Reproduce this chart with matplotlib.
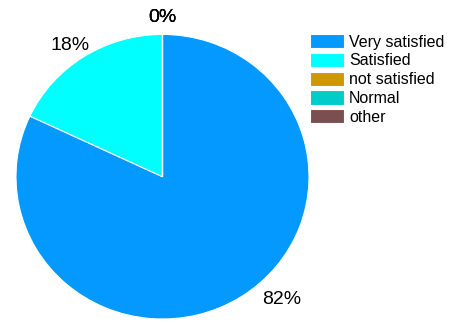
import numpy as np
import matplotlib.pyplot as plt

labels = ["Very satisfied", "Satisfied", "not satisfied", "Normal", "other"]
values = [82, 18, 0, 0, 0]
colors = ["#0399fe", "#00ffff", "#cc9900", "#00cccc", "#7b4f4f"]

fig = plt.figure(figsize=(4.49, 3.23), dpi=100)
ax = fig.add_axes([0.0356, 0.0124, 0.6526, 0.881])

wedges, texts, autotexts = ax.pie(values, colors=colors, startangle=90, counterclock=False,
                                  autopct="%1.0f%%", pctdistance=1.12,
                                  wedgeprops=dict(edgecolor="white", linewidth=0.8),
                                  textprops=dict(fontsize=14, family="Liberation Sans"))
ax.set_xlim(-1, 1)
ax.set_ylim(-1, 1)
ax.set_aspect("auto")

# big slice label sits a bit further round and out
x, y = autotexts[0].get_position()
a = np.arctan2(y, x) + np.radians(11)
r = np.hypot(x, y) * 1.06
autotexts[0].set_position((r * np.cos(a), r * np.sin(a)))
# small slice label a touch further round too
x, y = autotexts[1].get_position()
a = np.arctan2(y, x) + np.radians(2)
autotexts[1].set_position((np.hypot(x, y) * np.cos(a), np.hypot(x, y) * np.sin(a)))

fig.legend(wedges, labels, loc="upper left", bbox_to_anchor=(0.69, 0.895),
           frameon=False, prop=dict(family="Liberation Sans", size=11.5),
           handlelength=2.15, handleheight=1.0, labelspacing=0.2, handletextpad=0.3,
           borderaxespad=0, borderpad=0)

fig.savefig("out.png", dpi=100)
